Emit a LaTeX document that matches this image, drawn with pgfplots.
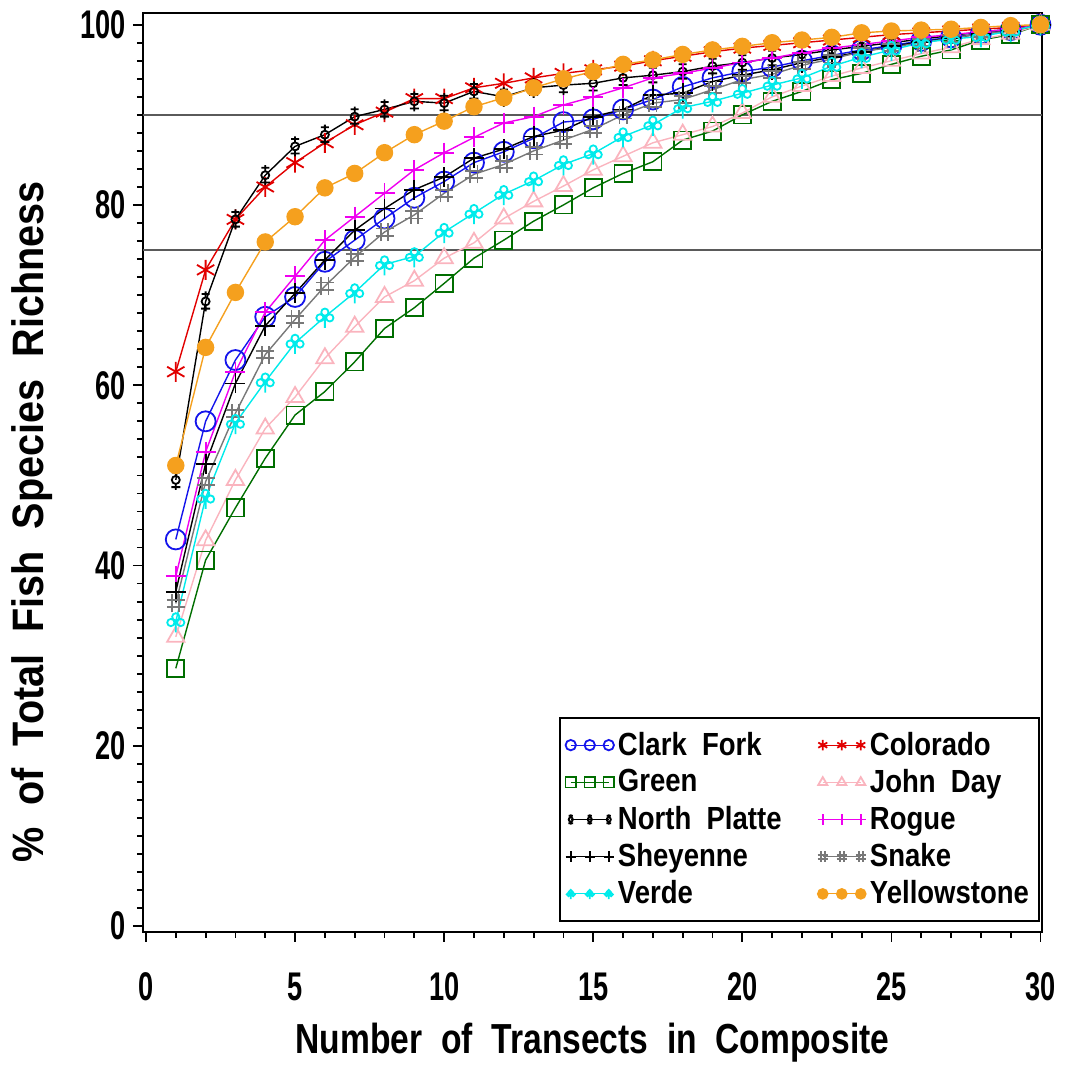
\documentclass[border=0pt]{standalone}
\usepackage{fontspec}
\setmainfont{Liberation Sans}[FakeStretch=0.86]
\newfontfamily\tickfont{Liberation Sans Bold}[FakeStretch=0.8]
\newfontfamily\numfont{Liberation Sans Bold}[FakeStretch=0.68]
\newfontfamily\ylabfont{Liberation Sans Bold}[FakeStretch=0.9]
\usepackage{pgfplots}
\pgfplotsset{compat=1.18}
\definecolor{cfblue}{RGB}{20,20,235}
\definecolor{cored}{RGB}{225,0,0}
\definecolor{grdark}{RGB}{0,110,0}
\definecolor{jdpink}{RGB}{250,180,190}
\definecolor{rgmag}{RGB}{240,0,240}
\definecolor{sngray}{RGB}{120,120,120}
\definecolor{vdcyan}{RGB}{0,235,235}
\definecolor{ysorange}{RGB}{245,160,30}
\definecolor{refline}{RGB}{90,90,90}

\pgfdeclareplotmark{hashmark}{%
  \pgfpathmoveto{\pgfqpoint{-0.4\pgfplotmarksize}{-\pgfplotmarksize}}%
  \pgfpathlineto{\pgfqpoint{-0.4\pgfplotmarksize}{\pgfplotmarksize}}%
  \pgfpathmoveto{\pgfqpoint{0.4\pgfplotmarksize}{-\pgfplotmarksize}}%
  \pgfpathlineto{\pgfqpoint{0.4\pgfplotmarksize}{\pgfplotmarksize}}%
  \pgfpathmoveto{\pgfqpoint{-\pgfplotmarksize}{-0.4\pgfplotmarksize}}%
  \pgfpathlineto{\pgfqpoint{\pgfplotmarksize}{-0.4\pgfplotmarksize}}%
  \pgfpathmoveto{\pgfqpoint{-\pgfplotmarksize}{0.4\pgfplotmarksize}}%
  \pgfpathlineto{\pgfqpoint{\pgfplotmarksize}{0.4\pgfplotmarksize}}%
  \pgfusepathqstroke}
\pgfdeclareplotmark{clubmark}{%
  \pgfpathcircle{\pgfqpoint{0pt}{0.42\pgfplotmarksize}}{0.33\pgfplotmarksize}%
  \pgfpathcircle{\pgfqpoint{-0.45\pgfplotmarksize}{-0.1\pgfplotmarksize}}{0.33\pgfplotmarksize}%
  \pgfpathcircle{\pgfqpoint{0.45\pgfplotmarksize}{-0.1\pgfplotmarksize}}{0.33\pgfplotmarksize}%
  \pgfpathmoveto{\pgfqpoint{0pt}{0pt}}%
  \pgfpathlineto{\pgfqpoint{0pt}{-\pgfplotmarksize}}%
  \pgfusepathqstroke}
\pgfdeclareplotmark{npmark}{%
  \pgfpathcircle{\pgfqpoint{0pt}{0pt}}{0.4\pgfplotmarksize}%
  \pgfpathmoveto{\pgfqpoint{0pt}{-0.4\pgfplotmarksize}}%
  \pgfpathlineto{\pgfqpoint{0pt}{-\pgfplotmarksize}}%
  \pgfpathmoveto{\pgfqpoint{-0.45\pgfplotmarksize}{-0.72\pgfplotmarksize}}%
  \pgfpathlineto{\pgfqpoint{0.45\pgfplotmarksize}{-0.72\pgfplotmarksize}}%
  \pgfpathmoveto{\pgfqpoint{0pt}{0.4\pgfplotmarksize}}%
  \pgfpathlineto{\pgfqpoint{0pt}{\pgfplotmarksize}}%
  \pgfpathmoveto{\pgfqpoint{-0.4\pgfplotmarksize}{0.74\pgfplotmarksize}}%
  \pgfpathlineto{\pgfqpoint{0.4\pgfplotmarksize}{0.74\pgfplotmarksize}}%
  \pgfusepathqstroke}

\begin{document}
\begin{tikzpicture}
\begin{axis}[
  width=449.5pt, height=459.5pt, scale only axis,
  xmin=-0.1, xmax=30.05, ymin=-0.65, ymax=101.3,
  xtick={0,5,...,30}, ytick={0,20,...,100},
  minor x tick num=4, minor y tick num=9,
  tick align=outside, xtick pos=bottom, ytick pos=left,
  major tick length=5pt, minor tick length=3pt,
  axis line style={line width=1pt},
  tick style={line width=0.9pt, black},
  /pgf/number format/assume math mode=true,
  tick label style={font=\fontsize{20}{24}\numfont},
  xticklabel style={yshift=-12pt},
  xlabel={Number\ \ of\ \ Transects\ \ in\ \ Composite},
  ylabel={\%\ \ of\ \ Total\ \ Fish\ \ Species\ \ Richness},
  every axis x label/.style={at={(axis description cs:0.5,-0.1208)}, anchor=center, font=\fontsize{21}{25}\tickfont},
  every axis y label/.style={at={(axis description cs:-0.1235,0.446)}, rotate=90, anchor=center, font=\fontsize{22}{26}\ylabfont},
  legend columns=2,
  legend cell align=left,
  legend style={at={(axis description cs:0.9978,0.0109)}, anchor=south east,
    draw=black, line width=1pt, font=\fontsize{16}{19}\selectfont\bfseries,
    inner xsep=3pt, inner ysep=5pt, row sep=1.5pt,
    /tikz/every even column/.append style={column sep=16pt}},
  legend image code/.code={\draw[mark size=2.6pt, line width=0.6pt] plot coordinates {(0pt,0pt)(9.5pt,0pt)(19pt,0pt)};},
]
\addplot[forget plot, refline, line width=0.7pt] coordinates {(-0.1,90)(30.05,90)};
\addplot[forget plot, refline, line width=0.7pt] coordinates {(-0.1,75)(30.05,75)};

\addplot[cfblue, line width=0.7pt, mark=o, mark size=5pt, mark options={line width=0.9pt}] coordinates {
(1,42.9)(2,56.0)(3,62.8)(4,67.6)(5,69.8)(6,73.7)(7,76.1)(8,78.5)(9,80.8)(10,82.6)
(11,84.7)(12,85.9)(13,87.4)(14,89.2)(15,89.5)(16,90.6)(17,91.7)(18,93.1)(19,94.1)(20,94.8)
(21,95.3)(22,96.0)(23,96.6)(24,97.2)(25,97.7)(26,98.2)(27,98.6)(28,99.0)(29,99.4)(30,100)};
\addlegendentry{Clark\ \ Fork}

\addplot[cored, line width=0.7pt, mark=asterisk, mark size=5pt, mark options={line width=0.9pt}] coordinates {
(1,61.5)(2,72.8)(3,78.4)(4,82.0)(5,84.7)(6,86.9)(7,88.9)(8,90.3)(9,91.8)(10,91.8)
(11,93.0)(12,93.5)(13,94.1)(14,94.6)(15,95.0)(16,95.4)(17,96.0)(18,96.5)(19,97.0)(20,97.4)
(21,97.7)(22,98.0)(23,98.3)(24,98.6)(25,98.9)(26,99.1)(27,99.3)(28,99.5)(29,99.7)(30,100)};
\addlegendentry{Colorado}

\addplot[grdark, line width=0.7pt, mark=square, mark size=4.3pt, mark options={line width=0.9pt}] coordinates {
(1,28.6)(2,40.6)(3,46.4)(4,51.9)(5,56.7)(6,59.3)(7,62.6)(8,66.3)(9,68.6)(10,71.3)
(11,74.1)(12,76.1)(13,78.2)(14,80.0)(15,81.9)(16,83.5)(17,84.8)(18,87.2)(19,88.2)(20,90.0)
(21,91.5)(22,92.6)(23,93.9)(24,94.6)(25,95.6)(26,96.5)(27,97.2)(28,98.3)(29,98.9)(30,100)};
\addlegendentry{Green}

\addplot[jdpink, line width=0.7pt, mark=triangle, mark size=5pt, mark options={line width=0.9pt}] coordinates {
(1,32.1)(2,42.8)(3,49.5)(4,55.2)(5,58.7)(6,63.0)(7,66.5)(8,69.8)(9,71.6)(10,74.1)
(11,75.8)(12,78.5)(13,80.4)(14,82.1)(15,83.9)(16,85.4)(17,86.9)(18,87.8)(19,88.7)(20,90.2)
(21,92.0)(22,93.2)(23,94.3)(24,95.2)(25,96.0)(26,96.8)(27,97.5)(28,98.4)(29,99.0)(30,100)};
\addlegendentry{John\ \ Day}

\addplot[black, line width=0.7pt, mark=npmark, mark size=5pt, mark options={line width=0.9pt}] coordinates {
(1,49.5)(2,69.3)(3,78.4)(4,83.3)(5,86.5)(6,87.8)(7,89.8)(8,90.6)(9,91.5)(10,91.3)
(11,92.6)(12,92.0)(13,93.0)(14,93.3)(15,93.5)(16,94.1)(17,94.4)(18,94.8)(19,95.4)(20,95.8)
(21,96.3)(22,96.7)(23,97.2)(24,97.6)(25,98.0)(26,98.4)(27,98.8)(28,99.2)(29,99.5)(30,100)};
\addlegendentry{North\ \ Platte}

\addplot[rgmag, line width=0.7pt, mark=+, mark size=5pt, mark options={line width=0.9pt}] coordinates {
(1,38.8)(2,52.6)(3,61.5)(4,68.1)(5,72.1)(6,76.1)(7,78.7)(8,81.3)(9,83.9)(10,85.8)
(11,87.5)(12,89.1)(13,89.8)(14,91.1)(15,92.0)(16,93.0)(17,94.1)(18,94.6)(19,95.2)(20,95.8)
(21,96.3)(22,96.9)(23,97.4)(24,97.8)(25,98.2)(26,98.6)(27,98.9)(28,99.2)(29,99.5)(30,100)};
\addlegendentry{Rogue}

\addplot[black, line width=0.7pt, mark=+, mark size=5pt, mark options={line width=0.9pt}] coordinates {
(1,37.1)(2,51.3)(3,60.2)(4,66.6)(5,70.2)(6,73.9)(7,77.2)(8,79.6)(9,81.7)(10,83.1)
(11,85.2)(12,86.2)(13,87.6)(14,88.3)(15,89.8)(16,90.6)(17,92.2)(18,92.4)(19,93.7)(20,94.4)
(21,95.0)(22,95.8)(23,96.4)(24,97.0)(25,97.6)(26,98.1)(27,98.5)(28,99.0)(29,99.3)(30,100)};
\addlegendentry{Sheyenne}

\addplot[sngray, line width=0.7pt, mark=hashmark, mark size=4.5pt, mark options={line width=0.9pt}] coordinates {
(1,35.8)(2,49.3)(3,56.9)(4,63.4)(5,67.3)(6,71.0)(7,74.2)(8,77.0)(9,78.9)(10,81.3)
(11,83.4)(12,84.5)(13,86.0)(14,87.2)(15,88.4)(16,90.0)(17,91.3)(18,91.7)(19,92.8)(20,93.9)
(21,94.5)(22,95.5)(23,96.2)(24,97.0)(25,97.5)(26,98.0)(27,98.5)(28,99.0)(29,99.3)(30,100)};
\addlegendentry{Snake}

\addplot[vdcyan, line width=0.7pt, mark=clubmark, mark size=5.5pt, mark options={line width=0.9pt}] coordinates {
(1,33.8)(2,47.5)(3,55.8)(4,60.4)(5,64.7)(6,67.6)(7,70.3)(8,73.4)(9,74.3)(10,77.0)
(11,79.1)(12,81.2)(13,82.7)(14,84.5)(15,85.7)(16,87.6)(17,88.9)(18,90.8)(19,91.5)(20,92.4)
(21,93.3)(22,94.1)(23,95.4)(24,96.4)(25,97.2)(26,98.0)(27,98.4)(28,98.7)(29,99.3)(30,100)};
\addlegendentry{Verde}

\addplot[ysorange, line width=0.7pt, mark=*, mark size=4pt, mark options={fill=ysorange, draw=ysorange}] coordinates {
(1,51.1)(2,64.2)(3,70.3)(4,75.9)(5,78.7)(6,81.9)(7,83.5)(8,85.8)(9,87.8)(10,89.3)
(11,90.9)(12,91.9)(13,93.0)(14,94.0)(15,94.8)(16,95.6)(17,96.1)(18,96.7)(19,97.2)(20,97.6)
(21,98.0)(22,98.3)(23,98.6)(24,99.1)(25,99.3)(26,99.4)(27,99.5)(28,99.7)(29,99.9)(30,100)};
\addlegendentry{Yellowstone}

\coordinate (bbsw) at (rel axis cs:0,0);
\end{axis}
\pgfresetboundingbox
\path[use as bounding box] ([shift={(-71.5pt,-68pt)}]bbsw) rectangle ([shift={(464.5pt,466pt)}]bbsw);
\end{tikzpicture}
\end{document}
